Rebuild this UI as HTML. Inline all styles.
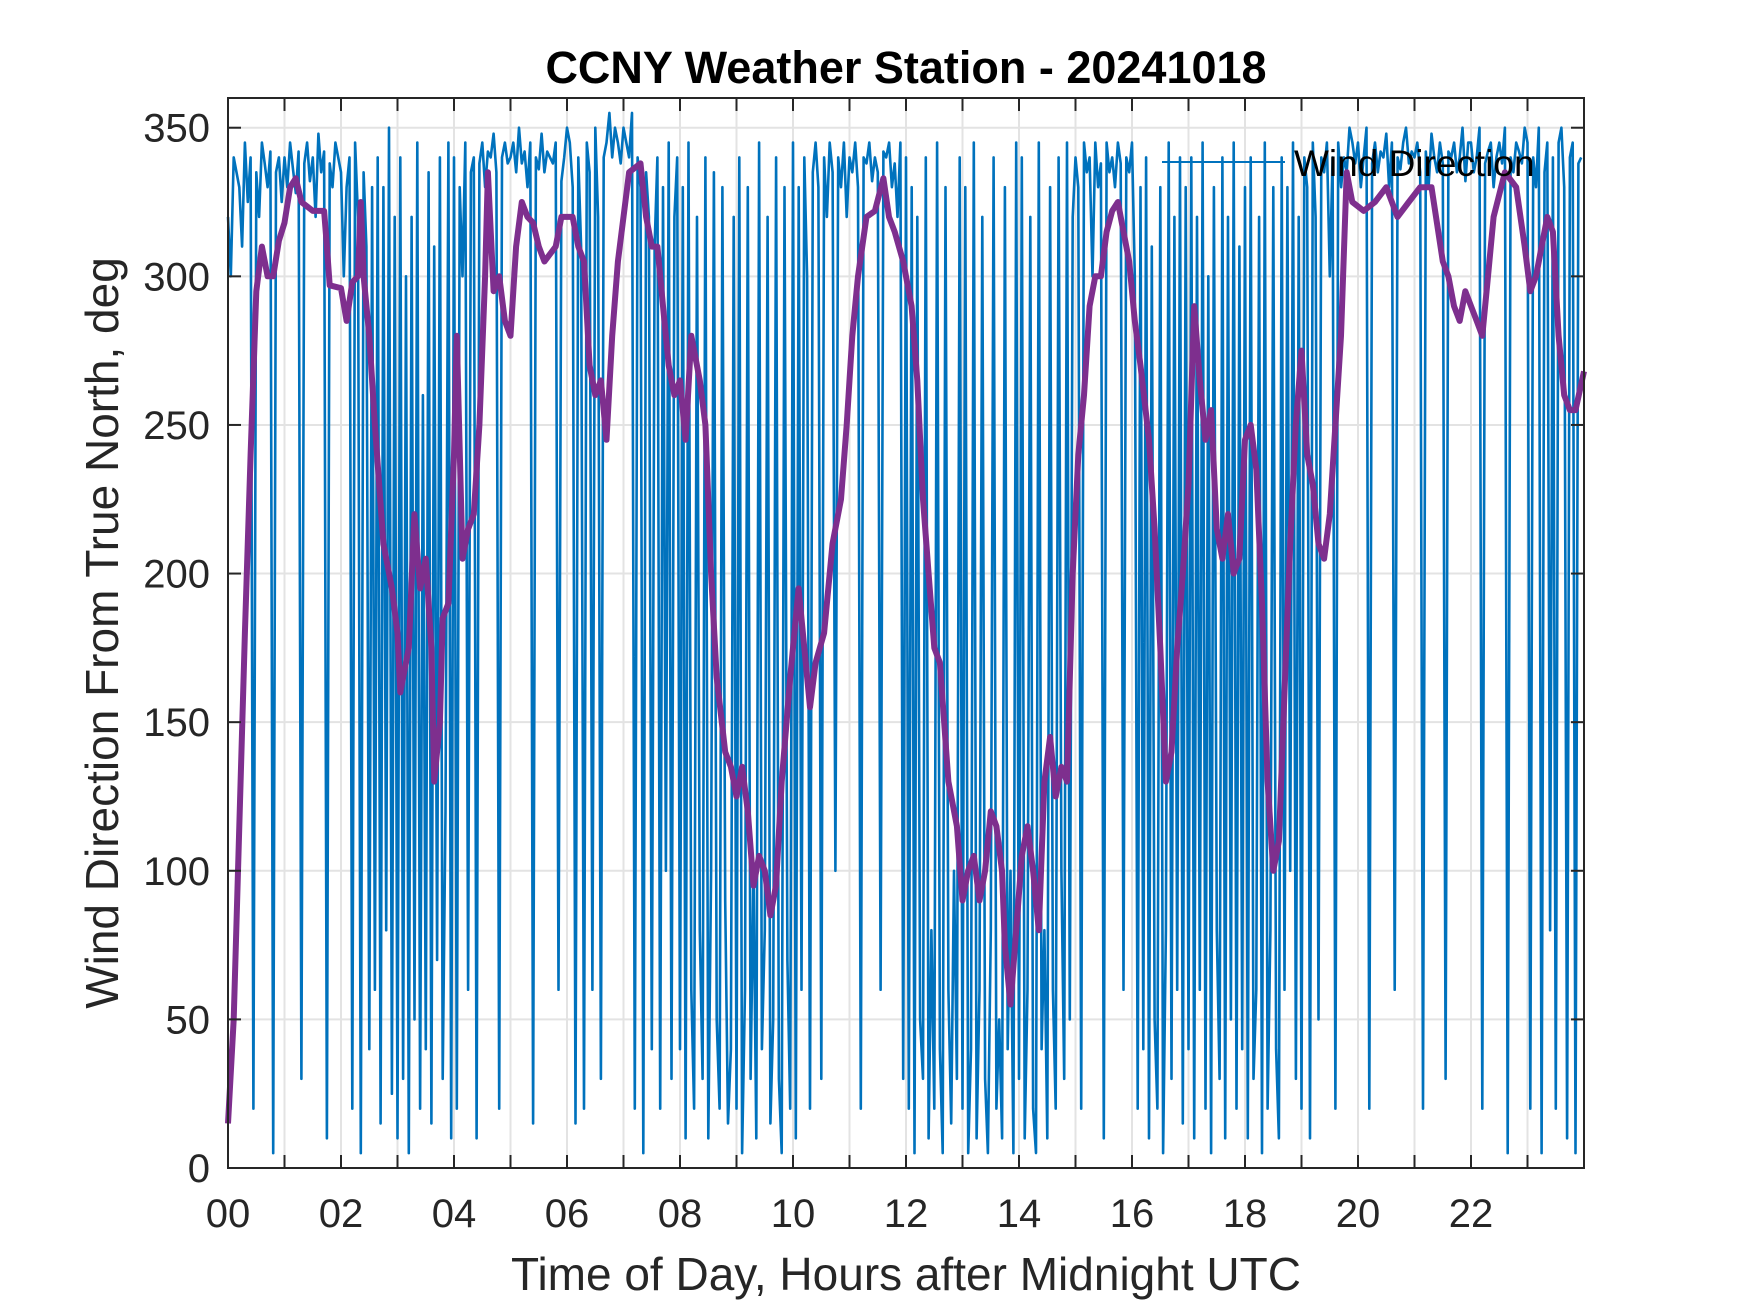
<!DOCTYPE html>
<html><head><meta charset="utf-8"><style>
html,body{margin:0;padding:0;background:#fff;}
svg{display:block;font-family:"Liberation Sans",Arial,sans-serif;}
</style></head><body>
<svg id="chart" width="1750" height="1313" viewBox="0 0 1750 1313" xmlns="http://www.w3.org/2000/svg">
<rect x="0" y="0" width="1750" height="1313" fill="#fff"/>
<g id="grid"></g>
<g id="blue"></g>
<g id="purple"></g>
<g id="axes"></g>
<text x="906" y="83" text-anchor="middle" font-size="45" font-weight="bold" fill="#000">CCNY Weather Station - 20241018</text>
<text x="906" y="1290" text-anchor="middle" font-size="46" fill="#262626">Time of Day, Hours after Midnight UTC</text>
<text transform="translate(118,633) rotate(-90)" text-anchor="middle" font-size="46" fill="#262626">Wind Direction From True North, deg</text>
<g>
<line x1="1162" y1="162" x2="1285" y2="162" stroke="#0072BD" stroke-width="2"/>
<text x="1294" y="176" font-size="37" fill="#000">Wind Direction</text>
</g>
</svg>
<script>
const yTicks = [0,50,100,150,200,250,300,350];
const xTickLabels = ["00","02","04","06","08","10","12","14","16","18","20","22"];
const blueValues = [
320,300,340,335,330,310,345,325,340,20,335,320,345,338,330,342,5,335,340,325,
340,330,345,336,328,342,30,338,345,332,340,320,348,335,342,10,338,330,345,340,
335,300,330,340,20,345,320,5,335,310,40,330,60,340,15,330,80,350,25,320,
10,340,30,300,5,320,50,345,20,260,40,335,15,310,70,340,30,120,345,10,
340,20,330,300,345,60,335,340,10,338,345,330,342,340,348,335,20,340,345,338,
340,345,335,350,338,342,330,345,15,340,336,348,335,342,340,338,345,60,332,340,
350,345,330,15,340,310,20,345,335,60,350,320,30,340,345,355,340,350,345,338,
350,345,340,355,20,340,330,5,335,320,40,310,340,20,330,100,345,30,320,340,
40,330,10,345,60,20,320,80,30,340,10,100,335,50,20,330,90,15,40,320,
20,340,5,60,330,30,100,10,345,40,80,320,15,50,340,30,5,330,70,20,
345,10,330,60,340,300,20,335,345,330,30,340,320,345,335,100,340,330,345,320,
340,335,345,330,20,340,338,345,332,340,335,60,342,340,345,330,338,320,345,30,
340,20,330,5,320,50,30,340,10,80,20,345,40,5,330,60,15,100,30,340,
20,330,5,40,345,10,60,320,30,5,80,340,20,50,10,330,40,100,5,345,
30,340,10,60,320,20,5,345,40,80,10,330,60,20,340,100,30,345,50,320,
340,330,20,345,335,340,300,345,330,338,10,345,335,340,330,345,338,60,340,335,
345,300,20,330,40,340,10,310,50,20,330,5,80,345,30,320,60,340,15,330,
40,340,10,320,60,345,20,300,5,330,80,30,340,10,320,50,345,20,310,40,
330,10,340,30,60,320,5,345,20,80,330,40,10,340,60,330,100,345,30,320,
20,340,330,10,345,320,50,340,335,345,300,340,20,345,330,340,335,350,345,338,
345,330,340,350,20,338,345,335,342,340,348,330,345,60,340,336,345,350,338,342,
340,345,335,20,342,330,348,340,335,345,338,30,342,340,345,335,340,350,332,345,
345,335,340,350,20,338,342,345,330,340,345,338,350,5,340,335,345,342,338,350,
345,20,340,330,350,5,335,345,80,340,20,345,350,330,10,340,345,5,338,340
];
const blueStepHours = 0.05;
const avgHours = [0,0.1,0.3,0.4,0.5,0.6,0.7,0.8,0.9,1.0,1.1,1.2,1.3,1.5,1.7,1.75,1.8,2.0,2.1,2.2,2.3,2.35,2.4,2.5,2.6,2.75,2.9,3.0,3.05,3.2,3.3,3.4,3.5,3.6,3.65,3.75,3.8,3.9,4.0,4.05,4.15,4.25,4.35,4.45,4.55,4.6,4.7,4.8,4.9,5.0,5.1,5.2,5.3,5.4,5.5,5.6,5.8,5.9,6.1,6.2,6.3,6.4,6.5,6.6,6.7,6.8,6.9,7.0,7.1,7.3,7.4,7.5,7.6,7.7,7.8,7.9,8.0,8.1,8.2,8.35,8.45,8.55,8.65,8.8,8.9,9.0,9.1,9.2,9.3,9.4,9.5,9.6,9.7,9.8,9.95,10.1,10.2,10.3,10.4,10.55,10.7,10.85,10.95,11.05,11.15,11.3,11.45,11.6,11.7,11.8,11.95,12.1,12.2,12.3,12.4,12.5,12.6,12.75,12.9,13.0,13.1,13.2,13.3,13.4,13.5,13.6,13.7,13.75,13.85,13.95,14.05,14.15,14.25,14.35,14.45,14.55,14.65,14.75,14.85,14.95,15.05,15.15,15.25,15.35,15.45,15.55,15.65,15.75,15.85,15.95,16.05,16.15,16.3,16.4,16.5,16.6,16.7,16.8,16.9,17.0,17.1,17.2,17.3,17.4,17.5,17.6,17.7,17.8,17.9,18.0,18.1,18.2,18.3,18.4,18.5,18.6,18.7,18.8,18.9,19.0,19.1,19.2,19.3,19.4,19.5,19.6,19.7,19.8,19.9,20.1,20.3,20.5,20.7,20.9,21.1,21.3,21.5,21.6,21.7,21.8,21.9,22.1,22.2,22.3,22.4,22.6,22.8,22.95,23.05,23.15,23.25,23.35,23.45,23.55,23.65,23.75,23.85,24];
const avgValues = [15,50,180,240,295,310,300,300,312,318,330,333,325,322,322,310,297,296,285,298,300,325,300,280,250,210,195,180,160,175,220,195,205,175,130,150,185,190,240,280,205,215,220,250,300,335,295,300,285,280,310,325,320,318,310,305,310,320,320,310,305,270,260,265,245,280,305,320,335,338,320,310,310,290,270,260,265,245,280,265,250,200,165,140,135,125,135,120,95,105,100,85,95,130,165,195,175,155,170,180,210,225,250,280,300,320,322,333,320,315,305,290,265,225,200,175,170,130,115,90,100,105,90,100,120,115,100,75,55,80,105,115,100,80,130,145,125,135,130,200,240,260,290,300,300,315,322,325,315,305,285,270,245,215,175,130,140,175,200,230,290,265,245,255,215,205,220,200,205,245,250,235,190,130,100,110,160,210,250,275,240,230,210,205,220,250,280,335,325,322,325,330,320,325,330,330,305,300,290,285,295,285,280,300,320,335,330,310,295,300,310,320,315,280,260,255,255,268];

const L=228,R=1584,T=98,B=1168, XMIN=0,XMAX=24,YMIN=0,YMAX=360;
const xs=h=>L+(h-XMIN)/(XMAX-XMIN)*(R-L);
const ys=v=>B-(v-YMIN)/(YMAX-YMIN)*(B-T);
const NS='http://www.w3.org/2000/svg';
function mk(tag,attrs,parent){const e=document.createElementNS(NS,tag);for(const k in attrs)e.setAttribute(k,attrs[k]);parent.appendChild(e);return e;}
const grid=document.getElementById('grid'), axes=document.getElementById('axes');
for(let h=1;h<24;h++){
  const g=mk('line',{x1:xs(h),x2:xs(h),y1:T,y2:B,stroke:'#e3e3e3','stroke-width':2},grid);
  
  
}
yTicks.forEach(v=>{
  const g=mk('line',{x1:L,x2:R,y1:ys(v),y2:ys(v),stroke:'#e3e3e3','stroke-width':2},grid);
  
  
});
let d='';
blueValues.forEach((v,i)=>{d+=(i?'L':'M')+xs(i*blueStepHours).toFixed(1)+' '+ys(v).toFixed(1);});
const bl=mk('path',{d:d,fill:'none',stroke:'#0072BD','stroke-width':2.6,'stroke-linejoin':'round'},document.getElementById('blue'));


let d2='';
avgHours.forEach((h,i)=>{d2+=(i?'L':'M')+xs(h).toFixed(1)+' '+ys(avgValues[i]).toFixed(1);});
const pl=mk('path',{d:d2,fill:'none',stroke:'#7E2F8E','stroke-width':6,'stroke-linejoin':'round'},document.getElementById('purple'));


const box=mk('rect',{x:L,y:T,width:R-L,height:B-T,fill:'none',stroke:'#262626','stroke-width':2},axes);


for(let h=1;h<24;h++){
  mk('line',{x1:xs(h),x2:xs(h),y1:B,y2:B-13,stroke:'#262626','stroke-width':2},axes);
  mk('line',{x1:xs(h),x2:xs(h),y1:T,y2:T+13,stroke:'#262626','stroke-width':2},axes);
}
xTickLabels.forEach((lab,i)=>{
  const t=mk('text',{x:xs(i*2),y:1227,'text-anchor':'middle','font-size':40,fill:'#262626'},axes);
  t.textContent=lab;
  
  
});
yTicks.forEach(v=>{
  mk('line',{x1:L,x2:L+13,y1:ys(v),y2:ys(v),stroke:'#262626','stroke-width':2},axes);
  mk('line',{x1:R,x2:R-13,y1:ys(v),y2:ys(v),stroke:'#262626','stroke-width':2},axes);
  const t=mk('text',{x:L-18,y:ys(v)+14,'text-anchor':'end','font-size':40,fill:'#262626'},axes);
  t.textContent=v;
  
  
});
</script>
</body></html>
